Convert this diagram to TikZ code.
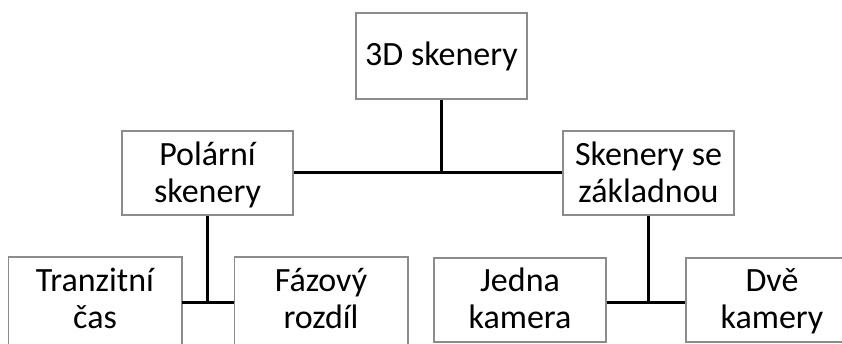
\documentclass[tikz,border=0pt]{standalone}
\usepackage{fontspec}
\setmainfont{Carlito}
\definecolor{boxgray}{RGB}{140,140,140}
\begin{document}
\begin{tikzpicture}[x=1pt,y=-1pt,
  box/.style={draw=boxgray,line width=1.5pt,fill=white,minimum width=171pt,inner sep=0pt,
    align=center,font=\fontsize{34}{37}\selectfont},
  two/.style={text height=67pt,text depth=7pt},
  low/.style={text height=63pt,text depth=7pt},
  link/.style={line width=3pt}]
\useasboundingbox (0,0) rectangle (842,344);
\clip (0,0) rectangle (842,344);
\node[box,minimum height=86pt,text height=25pt,text depth=5pt] (top) at (441.5,56) {3D skenery};
\node[box,two,minimum height=84pt] (pol) at (207.5,173) {Polární\\skenery};
\node[box,two,minimum height=84pt] (sken) at (648.5,173) {Skenery se\\základnou};
\node[box,low,minimum height=84pt,minimum width=172pt,draw=none] (tran) at (95,300) {Tranzitní\\čas};
\node[box,low,minimum height=84pt,minimum width=172pt,draw=none] (faz) at (321,300) {Fázový\\rozdíl};
\node[box,low,minimum height=84pt,minimum width=172pt] (jed) at (520,300) {Jedna\\kamera};
\node[box,low,minimum height=84pt,minimum width=172pt] (dve) at (772,300) {Dvě\\kamery};
\draw[boxgray,line width=1.5pt] ([yshift=-20pt]tran.south west) -- (tran.north west) -- (tran.north east) -- ([yshift=-20pt]tran.south east);
\draw[boxgray,line width=1.5pt] ([yshift=-20pt]faz.south west) -- (faz.north west) -- (faz.north east) -- ([yshift=-20pt]faz.south east);
\coordinate (j1) at (top.south |- pol.east);
\coordinate (j2) at ([yshift=-2pt]pol.south |- tran.east);
\coordinate (j3) at ([yshift=-2pt]sken.south |- jed.east);
\draw[link] (top.south) -- (j1);
\draw[link] (pol.east) -- (sken.west);
\draw[link] (pol.south) -- (j2);
\draw[link] (tran.east |- j2) -- (faz.west |- j2);
\draw[link] (sken.south) -- (j3);
\draw[link] (jed.east |- j3) -- (dve.west |- j3);
\end{tikzpicture}
\end{document}
